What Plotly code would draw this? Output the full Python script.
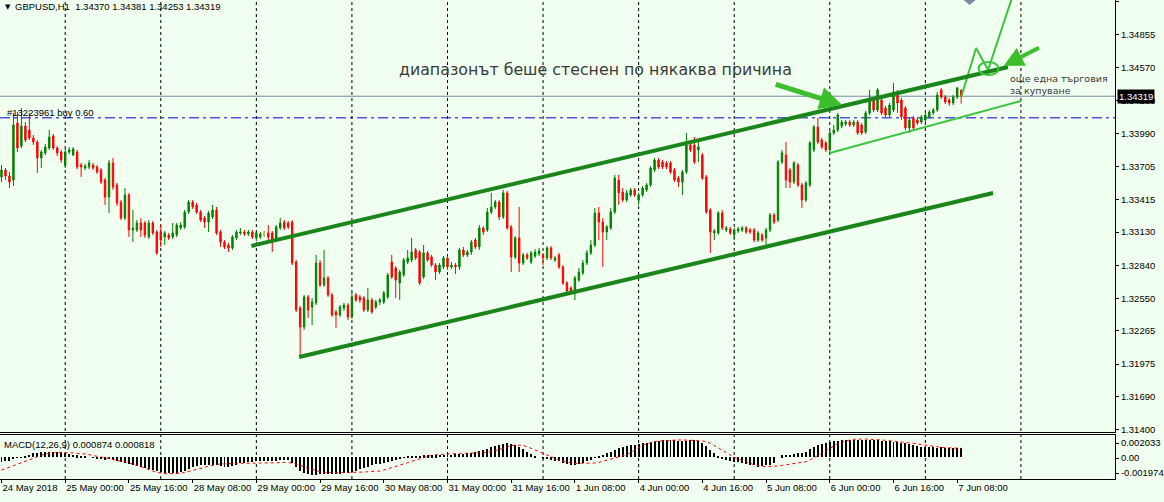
import plotly.graph_objects as go

# ---------------- data (GBPUSD H1, 24 May 08:00 .. 7 Jun 09:00) ----------------
open_ = [
 1.33613, 1.33674, 1.33621, 1.33586, 1.34085, 1.33883, 1.34058, 1.34024, 1.33954, 1.33918,
 1.33779, 1.33823, 1.33866, 1.33971, 1.33866, 1.33831, 1.33717, 1.33831, 1.33805, 1.33831,
 1.33717, 1.33691, 1.33700, 1.33717, 1.33700, 1.33674, 1.33586, 1.33438, 1.33735, 1.33542,
 1.33393, 1.33254, 1.33455, 1.33149, 1.33149, 1.33210, 1.33210, 1.33088, 1.33210, 1.33131,
 1.33131, 1.33088, 1.33105, 1.33088, 1.33105, 1.33166, 1.33175, 1.33306, 1.33393, 1.33367,
 1.33306, 1.33254, 1.33218, 1.33263, 1.33324, 1.33131, 1.33043, 1.33017, 1.32991, 1.33079,
 1.33123, 1.33131, 1.33114, 1.33131, 1.33079, 1.33088, 1.33114, 1.33123, 1.33123, 1.33061,
 1.33166, 1.33218, 1.33210, 1.33218, 1.32868, 1.32466, 1.32300, 1.32563, 1.32475, 1.32510,
 1.32860, 1.32667, 1.32729, 1.32580, 1.32431, 1.32405, 1.32466, 1.32492, 1.32388, 1.32580,
 1.32563, 1.32554, 1.32449, 1.32536, 1.32475, 1.32518, 1.32518, 1.32563, 1.32868, 1.32816,
 1.32685, 1.32755, 1.32868, 1.32886, 1.32974, 1.32956, 1.32738, 1.32948, 1.32913, 1.32842,
 1.32781, 1.32825, 1.32904, 1.32825, 1.32842, 1.32825, 1.32974, 1.32930, 1.32956, 1.33061,
 1.33000, 1.33166, 1.33149, 1.33306, 1.33350, 1.33393, 1.33263, 1.33473, 1.33175, 1.32913,
 1.33079, 1.32860, 1.32930, 1.32868, 1.32921, 1.32939, 1.32930, 1.32904, 1.32991, 1.32886,
 1.32930, 1.32825, 1.32685, 1.32641, 1.32606, 1.32711, 1.32773, 1.32860, 1.32948, 1.33017,
 1.33298, 1.33218, 1.33131, 1.33166, 1.33306, 1.33586, 1.33481, 1.33411, 1.33455, 1.33499,
 1.33411, 1.33455, 1.33499, 1.33542, 1.33674, 1.33761, 1.33743, 1.33735, 1.33735, 1.33674,
 1.33604, 1.33568, 1.33656, 1.33892, 1.33892, 1.33849, 1.33805, 1.33613, 1.33324, 1.33123,
 1.33123, 1.33298, 1.33149, 1.33157, 1.33105, 1.33140, 1.33149, 1.33166, 1.33149, 1.33149,
 1.33061, 1.33105, 1.33079, 1.33149, 1.33280, 1.33236, 1.33743, 1.33805, 1.33674, 1.33568,
 1.33717, 1.33542, 1.33411, 1.33542, 1.33849, 1.34050, 1.33936, 1.33910, 1.33849, 1.33998,
 1.34024, 1.34058, 1.34076, 1.34093, 1.34067, 1.34093, 1.34067, 1.34006, 1.34173, 1.34286,
 1.34199, 1.34286, 1.34216, 1.34155, 1.34199, 1.34356, 1.34286, 1.34216, 1.34041, 1.34129,
 1.34111, 1.34093, 1.34111, 1.34138, 1.34173, 1.34199, 1.34374, 1.34312, 1.34286, 1.34260,
 1.34312, 1.34370]

high = [
 1.33717, 1.33691, 1.33656, 1.34173, 1.34181, 1.34216, 1.34093, 1.34173, 1.33980, 1.33936,
 1.33849, 1.33901, 1.34024, 1.33989, 1.33883, 1.33849, 1.33866, 1.33875, 1.33875, 1.33849,
 1.33735, 1.33726, 1.33761, 1.33735, 1.33717, 1.33691, 1.33604, 1.33761, 1.33779, 1.33560,
 1.33411, 1.33516, 1.33473, 1.33324, 1.33236, 1.33254, 1.33227, 1.33236, 1.33227, 1.33149,
 1.33192, 1.33140, 1.33123, 1.33210, 1.33210, 1.33218, 1.33324, 1.33411, 1.33411, 1.33385,
 1.33324, 1.33271, 1.33315, 1.33367, 1.33350, 1.33149, 1.33061, 1.33035, 1.33105, 1.33149,
 1.33166, 1.33149, 1.33149, 1.33149, 1.33140, 1.33131, 1.33140, 1.33192, 1.33140, 1.33192,
 1.33254, 1.33236, 1.33227, 1.33236, 1.32886, 1.32483, 1.32580, 1.32580, 1.32554, 1.32930,
 1.32886, 1.32974, 1.32746, 1.32598, 1.32449, 1.32492, 1.32510, 1.32510, 1.32606, 1.32598,
 1.32580, 1.32571, 1.32641, 1.32554, 1.32536, 1.32554, 1.32615, 1.32773, 1.32930, 1.32833,
 1.32799, 1.32904, 1.32974, 1.33079, 1.32991, 1.32974, 1.33017, 1.32965, 1.32930, 1.32860,
 1.32860, 1.32921, 1.32921, 1.32868, 1.32860, 1.32991, 1.33000, 1.32974, 1.33061, 1.33079,
 1.33192, 1.33183, 1.33341, 1.33473, 1.33411, 1.33411, 1.33499, 1.33490, 1.33192, 1.33096,
 1.33350, 1.32948, 1.32948, 1.32965, 1.32982, 1.32991, 1.32948, 1.33008, 1.33008, 1.32921,
 1.32948, 1.32842, 1.32702, 1.32658, 1.32746, 1.32816, 1.32886, 1.32974, 1.33061, 1.33341,
 1.33350, 1.33254, 1.33192, 1.33341, 1.33630, 1.33630, 1.33516, 1.33499, 1.33516, 1.33516,
 1.33473, 1.33533, 1.33560, 1.33708, 1.33779, 1.33779, 1.33761, 1.33752, 1.33752, 1.33691,
 1.33621, 1.33674, 1.33998, 1.33910, 1.33963, 1.33918, 1.33823, 1.33630, 1.33341, 1.33157,
 1.33315, 1.33324, 1.33183, 1.33175, 1.33166, 1.33175, 1.33183, 1.33183, 1.33166, 1.33166,
 1.33140, 1.33123, 1.33166, 1.33298, 1.33298, 1.33761, 1.33849, 1.33918, 1.33691, 1.33752,
 1.33735, 1.33560, 1.33577, 1.33927, 1.34067, 1.34129, 1.33954, 1.33927, 1.34015, 1.34067,
 1.34173, 1.34111, 1.34111, 1.34111, 1.34111, 1.34111, 1.34085, 1.34190, 1.34374, 1.34304,
 1.34391, 1.34304, 1.34234, 1.34260, 1.34435, 1.34374, 1.34304, 1.34234, 1.34129, 1.34146,
 1.34129, 1.34155, 1.34173, 1.34199, 1.34216, 1.34356, 1.34391, 1.34330, 1.34304, 1.34330,
 1.34400, 1.34381]

low = [
 1.33568, 1.33586, 1.33516, 1.33533, 1.33831, 1.33866, 1.33918, 1.33936, 1.33892, 1.33648,
 1.33691, 1.33805, 1.33849, 1.33849, 1.33796, 1.33735, 1.33691, 1.33814, 1.33796, 1.33682,
 1.33613, 1.33674, 1.33682, 1.33674, 1.33639, 1.33551, 1.33367, 1.33298, 1.33499, 1.33358,
 1.33236, 1.33236, 1.33088, 1.33043, 1.33131, 1.33088, 1.33079, 1.33070, 1.33105, 1.32930,
 1.33000, 1.33017, 1.33061, 1.33070, 1.33088, 1.33149, 1.33157, 1.33289, 1.33332, 1.33289,
 1.33218, 1.33166, 1.33131, 1.33245, 1.33105, 1.33000, 1.32982, 1.32956, 1.32974, 1.33061,
 1.33105, 1.33096, 1.33096, 1.33070, 1.33052, 1.33070, 1.33088, 1.33061, 1.32956, 1.33043,
 1.33149, 1.33149, 1.33157, 1.32842, 1.32431, 1.32038, 1.32274, 1.32379, 1.32317, 1.32492,
 1.32650, 1.32650, 1.32563, 1.32388, 1.32291, 1.32388, 1.32440, 1.32361, 1.32370, 1.32518,
 1.32510, 1.32431, 1.32431, 1.32414, 1.32457, 1.32492, 1.32501, 1.32545, 1.32720, 1.32554,
 1.32536, 1.32738, 1.32851, 1.32868, 1.32886, 1.32667, 1.32720, 1.32868, 1.32825, 1.32711,
 1.32764, 1.32807, 1.32799, 1.32807, 1.32764, 1.32799, 1.32913, 1.32913, 1.32930, 1.32982,
 1.32974, 1.33105, 1.33131, 1.33289, 1.33332, 1.33236, 1.33245, 1.33149, 1.32781, 1.32895,
 1.32781, 1.32842, 1.32886, 1.32851, 1.32904, 1.32921, 1.32842, 1.32886, 1.32886, 1.32868,
 1.32807, 1.32667, 1.32598, 1.32580, 1.32536, 1.32693, 1.32755, 1.32842, 1.32930, 1.33000,
 1.33061, 1.32825, 1.33061, 1.33149, 1.33289, 1.33367, 1.33393, 1.33393, 1.33438, 1.33438,
 1.33367, 1.33438, 1.33481, 1.33525, 1.33656, 1.33682, 1.33682, 1.33682, 1.33639, 1.33568,
 1.33525, 1.33455, 1.33639, 1.33831, 1.33726, 1.33743, 1.33586, 1.33289, 1.32948, 1.33061,
 1.33105, 1.33149, 1.33131, 1.33105, 1.33061, 1.33123, 1.33131, 1.33114, 1.33114, 1.33043,
 1.33043, 1.33043, 1.33017, 1.33131, 1.33201, 1.33218, 1.33726, 1.33516, 1.33516, 1.33551,
 1.33525, 1.33341, 1.33393, 1.33525, 1.33831, 1.33901, 1.33857, 1.33831, 1.33831, 1.33980,
 1.34006, 1.34040, 1.34058, 1.34050, 1.34050, 1.33980, 1.33980, 1.33989, 1.34155, 1.34181,
 1.34181, 1.34155, 1.34138, 1.34138, 1.34181, 1.34173, 1.34111, 1.34024, 1.33998, 1.34024,
 1.34067, 1.34076, 1.34093, 1.34120, 1.34155, 1.34181, 1.34295, 1.34251, 1.34234, 1.34242,
 1.34295, 1.34253]

close = [
 1.33674, 1.33621, 1.33568, 1.34067, 1.33866, 1.34058, 1.33936, 1.33954, 1.33918, 1.33779,
 1.33831, 1.33875, 1.33963, 1.33866, 1.33823, 1.33761, 1.33831, 1.33849, 1.33857, 1.33700,
 1.33700, 1.33708, 1.33735, 1.33691, 1.33656, 1.33568, 1.33438, 1.33735, 1.33525, 1.33385,
 1.33254, 1.33455, 1.33149, 1.33166, 1.33210, 1.33149, 1.33105, 1.33210, 1.33123, 1.32948,
 1.33061, 1.33123, 1.33079, 1.33123, 1.33192, 1.33192, 1.33306, 1.33393, 1.33350, 1.33306,
 1.33236, 1.33218, 1.33298, 1.33324, 1.33123, 1.33043, 1.33000, 1.32991, 1.33088, 1.33131,
 1.33131, 1.33114, 1.33131, 1.33088, 1.33123, 1.33114, 1.33114, 1.33088, 1.33061, 1.33175,
 1.33210, 1.33166, 1.33175, 1.32860, 1.32449, 1.32300, 1.32563, 1.32449, 1.32518, 1.32860,
 1.32667, 1.32729, 1.32580, 1.32405, 1.32405, 1.32475, 1.32492, 1.32388, 1.32563, 1.32536,
 1.32536, 1.32449, 1.32536, 1.32431, 1.32518, 1.32536, 1.32598, 1.32755, 1.32738, 1.32711,
 1.32781, 1.32886, 1.32904, 1.32956, 1.32904, 1.32685, 1.32948, 1.32886, 1.32842, 1.32781,
 1.32842, 1.32904, 1.32825, 1.32842, 1.32825, 1.32974, 1.32930, 1.32956, 1.33043, 1.33000,
 1.33166, 1.33131, 1.33306, 1.33350, 1.33393, 1.33263, 1.33473, 1.33166, 1.32913, 1.33079,
 1.32860, 1.32930, 1.32904, 1.32948, 1.32956, 1.32965, 1.32904, 1.32991, 1.32904, 1.32904,
 1.32825, 1.32685, 1.32615, 1.32606, 1.32729, 1.32781, 1.32860, 1.32948, 1.33017, 1.33298,
 1.33218, 1.33131, 1.33175, 1.33306, 1.33604, 1.33473, 1.33411, 1.33473, 1.33499, 1.33455,
 1.33455, 1.33516, 1.33542, 1.33691, 1.33761, 1.33700, 1.33700, 1.33700, 1.33656, 1.33586,
 1.33568, 1.33656, 1.33892, 1.33849, 1.33743, 1.33875, 1.33604, 1.33306, 1.33131, 1.33140,
 1.33298, 1.33166, 1.33166, 1.33123, 1.33149, 1.33157, 1.33166, 1.33131, 1.33131, 1.33061,
 1.33123, 1.33061, 1.33149, 1.33280, 1.33218, 1.33743, 1.33823, 1.33586, 1.33568, 1.33735,
 1.33542, 1.33411, 1.33560, 1.33910, 1.34050, 1.33918, 1.33875, 1.33849, 1.33998, 1.34024,
 1.34155, 1.34093, 1.34093, 1.34067, 1.34093, 1.33998, 1.33998, 1.34173, 1.34286, 1.34199,
 1.34374, 1.34173, 1.34155, 1.34242, 1.34356, 1.34260, 1.34138, 1.34041, 1.34111, 1.34041,
 1.34085, 1.34138, 1.34155, 1.34181, 1.34199, 1.34330, 1.34312, 1.34269, 1.34260, 1.34312,
 1.34391, 1.34319]

macd_main = [
 -0.00043, -0.00036, -0.00030, -0.00012, -0.00006, -0.00003, 0.00012, 0.00024, 0.00036, 0.00043,
 0.00046, 0.00049, 0.00052, 0.00052, 0.00049, 0.00046, 0.00036, 0.00030, 0.00024, 0.00018,
 0.00012, 0.00009, 0.00000, -0.00006, -0.00012, -0.00018, -0.00024, -0.00018, -0.00024, -0.00033,
 -0.00043, -0.00049, -0.00058, -0.00070, -0.00079, -0.00091, -0.00100, -0.00109, -0.00116, -0.00128,
 -0.00134, -0.00140, -0.00146, -0.00146, -0.00143, -0.00137, -0.00128, -0.00109, -0.00091, -0.00079,
 -0.00073, -0.00070, -0.00067, -0.00067, -0.00073, -0.00079, -0.00085, -0.00085, -0.00079, -0.00067,
 -0.00055, -0.00049, -0.00043, -0.00040, -0.00036, -0.00036, -0.00033, -0.00036, -0.00036, -0.00030,
 -0.00024, -0.00024, -0.00024, -0.00055, -0.00091, -0.00122, -0.00140, -0.00152, -0.00158, -0.00158,
 -0.00155, -0.00152, -0.00152, -0.00155, -0.00155, -0.00152, -0.00146, -0.00140, -0.00131, -0.00122,
 -0.00109, -0.00097, -0.00085, -0.00073, -0.00064, -0.00064, -0.00055, -0.00046, -0.00036, -0.00024,
 -0.00012, -0.00006, 0.00003, 0.00009, 0.00015, 0.00015, 0.00018, 0.00018, 0.00018, 0.00018,
 0.00021, 0.00024, 0.00024, 0.00024, 0.00027, 0.00030, 0.00033, 0.00036, 0.00043, 0.00049,
 0.00058, 0.00067, 0.00079, 0.00091, 0.00103, 0.00112, 0.00122, 0.00128, 0.00122, 0.00109,
 0.00091, 0.00073, 0.00052, 0.00030, 0.00012, 0.00000, -0.00012, -0.00018, -0.00024, -0.00030,
 -0.00036, -0.00049, -0.00061, -0.00067, -0.00070, -0.00061, -0.00049, -0.00036, -0.00024, -0.00006,
 0.00012, 0.00024, 0.00036, 0.00049, 0.00067, 0.00085, 0.00097, 0.00106, 0.00112, 0.00116,
 0.00122, 0.00128, 0.00134, 0.00140, 0.00146, 0.00152, 0.00155, 0.00158, 0.00158, 0.00155,
 0.00149, 0.00146, 0.00152, 0.00158, 0.00155, 0.00149, 0.00134, 0.00103, 0.00067, 0.00036,
 0.00006, -0.00018, -0.00024, -0.00030, -0.00040, -0.00046, -0.00055, -0.00061, -0.00067, -0.00073,
 -0.00085, -0.00079, -0.00073, -0.00067, -0.00055, 0.00000, 0.00018, 0.00024, 0.00024, 0.00030,
 0.00036, 0.00036, 0.00052, 0.00073, 0.00097, 0.00112, 0.00122, 0.00128, 0.00140, 0.00146,
 0.00152, 0.00158, 0.00158, 0.00161, 0.00158, 0.00158, 0.00158, 0.00155, 0.00158, 0.00158,
 0.00158, 0.00152, 0.00149, 0.00146, 0.00143, 0.00140, 0.00134, 0.00128, 0.00119, 0.00109,
 0.00103, 0.00097, 0.00091, 0.00094, 0.00091, 0.00088, 0.00090, 0.00087, 0.00085, 0.00084,
 0.00086, 0.000874]

macd_signal = [
 -0.00116, -0.00103, -0.00091, -0.00079, -0.00067, -0.00055, -0.00040, -0.00024, -0.00009, 0.00006,
 0.00021, 0.00030, 0.00036, 0.00043, 0.00043, 0.00043, 0.00043, 0.00040, 0.00040, 0.00036,
 0.00036, 0.00030, 0.00024, 0.00018, 0.00012, 0.00006, -0.00003, -0.00012, -0.00021, -0.00030,
 -0.00036, -0.00040, -0.00049, -0.00061, -0.00073, -0.00085, -0.00100, -0.00112, -0.00125, -0.00137,
 -0.00146, -0.00149, -0.00149, -0.00149, -0.00149, -0.00146, -0.00137, -0.00128, -0.00116, -0.00106,
 -0.00097, -0.00088, -0.00079, -0.00070, -0.00064, -0.00061, -0.00058, -0.00055, -0.00055, -0.00055,
 -0.00055, -0.00055, -0.00055, -0.00055, -0.00055, -0.00055, -0.00055, -0.00052, -0.00052, -0.00049,
 -0.00049, -0.00046, -0.00046, -0.00052, -0.00061, -0.00073, -0.00085, -0.00097, -0.00109, -0.00122,
 -0.00131, -0.00137, -0.00140, -0.00140, -0.00140, -0.00140, -0.00140, -0.00140, -0.00137, -0.00137,
 -0.00134, -0.00134, -0.00131, -0.00131, -0.00128, -0.00125, -0.00116, -0.00106, -0.00094, -0.00085,
 -0.00073, -0.00061, -0.00049, -0.00036, -0.00024, -0.00012, 0.00000, 0.00012, 0.00018, 0.00024,
 0.00027, 0.00030, 0.00033, 0.00033, 0.00033, 0.00036, 0.00036, 0.00036, 0.00036, 0.00036,
 0.00040, 0.00043, 0.00046, 0.00052, 0.00061, 0.00073, 0.00085, 0.00097, 0.00106, 0.00112,
 0.00112, 0.00109, 0.00097, 0.00082, 0.00067, 0.00049, 0.00030, 0.00015, 0.00000, -0.00012,
 -0.00024, -0.00036, -0.00046, -0.00052, -0.00055, -0.00055, -0.00058, -0.00058, -0.00055, -0.00052,
 -0.00046, -0.00036, -0.00027, -0.00018, -0.00009, 0.00000, 0.00012, 0.00024, 0.00043, 0.00067,
 0.00091, 0.00109, 0.00122, 0.00134, 0.00143, 0.00149, 0.00152, 0.00155, 0.00158, 0.00158,
 0.00158, 0.00158, 0.00158, 0.00158, 0.00155, 0.00152, 0.00149, 0.00143, 0.00128, 0.00106,
 0.00082, 0.00058, 0.00036, 0.00018, 0.00000, -0.00015, -0.00030, -0.00043, -0.00055, -0.00067,
 -0.00076, -0.00082, -0.00085, -0.00085, -0.00085, -0.00079, -0.00073, -0.00067, -0.00061, -0.00058,
 -0.00055, -0.00049, -0.00040, -0.00024, -0.00006, 0.00012, 0.00036, 0.00061, 0.00082, 0.00103,
 0.00122, 0.00137, 0.00149, 0.00158, 0.00164, 0.00167, 0.00167, 0.00167, 0.00164, 0.00164,
 0.00161, 0.00158, 0.00155, 0.00152, 0.00149, 0.00146, 0.00143, 0.00140, 0.00134, 0.00128,
 0.00122, 0.00116, 0.00109, 0.00103, 0.00097, 0.00094, 0.00091, 0.00088, 0.00085, 0.00085,
 0.00082, 0.000818]

price_ticks = [1.35145, 1.34855, 1.34570, 1.34280, 1.33990, 1.33705, 1.33415,
               1.33130, 1.32840, 1.32550, 1.32265, 1.31975, 1.31690, 1.31400]
macd_tick_labels = ["0.002033", "0.00", "-0.001974"]
time_labels = ["24 May 2018", "25 May 00:00", "25 May 16:00", "28 May 08:00", "29 May 00:00",
               "29 May 16:00", "30 May 08:00", "31 May 00:00", "31 May 16:00", "1 Jun 08:00",
               "4 Jun 00:00", "4 Jun 16:00", "5 Jun 08:00", "6 Jun 00:00", "6 Jun 16:00",
               "7 Jun 08:00"]
time_label_bars = [0, 16, 32, 48, 64, 80, 96, 112, 128, 144, 160, 176, 192, 208, 224, 240]
day_start_bars = [16, 40, 64, 88, 112, 136, 160, 184, 208, 232, 256]

order_price = 1.34130
order_text = "#13223961 buy 0.60"
symbol_text = "GBPUSD,H1\u00a0\u00a01.34370 1.34381 1.34253 1.34319"
macd_text = "MACD(12,26,9) 0.000874 0.000818"
note_main = "диапазонът беше стеснен по някаква причина"
note_side = ["още една търговия", "за купуване"]

# drawn objects (bar index, price)
channel_upper = [(62.75, 1.33009), (252.75, 1.34575)]
channel_lower = [(74.75, 1.32037), (249.0, 1.33472)]
inner_lower = [(208.0, 1.33822), (256.0, 1.34277)]
zigzag_bars = [241.0, 244.75, 247.75, 253.75]
zigzag_prices = [1.34312, 1.34741, 1.34548, 1.35179]

# ---------------- geometry ----------------
FIG_W, FIG_H = 1164, 502
PLOT_W, PLOT_H = 1120, 479
MAIN_BOTTOM_PX = 432
MACD_TOP_PX = 435
BAR_PX = 4.0
BAR0_PX = 1.5
PRICE_TOP = 1.35161
PRICE_PER_PX = 0.0000875
MACD_MIN, MACD_MAX = -0.001974, 0.002033

def px2x(px):
    return (px - BAR0_PX) / BAR_PX

def py2price(py):
    return PRICE_TOP - py * PRICE_PER_PX

def py2macd(py):
    return MACD_MAX - (py - MACD_TOP_PX) * (MACD_MAX - MACD_MIN) / (PLOT_H - MACD_TOP_PX)

def paper_x(px):
    return px / PLOT_W

def paper_y(py):
    return 1 - py / PLOT_H

BG = "#F0FFF0"
FONT = "Liberation Sans"
BIGFONT = "DejaVu Sans"
SMALL = 9.5
GREEN = "#008000"
RED = "#FF0000"

n = len(close)
bars = list(range(n))

fig = go.Figure()
fig.add_trace(go.Candlestick(
    x=bars, open=open_, high=high, low=low, close=close,
    increasing=dict(line=dict(color=GREEN, width=1), fillcolor=GREEN),
    decreasing=dict(line=dict(color=RED, width=1), fillcolor=RED),
    whiskerwidth=0, hoverinfo="skip", xaxis="x", yaxis="y", showlegend=False))

doji = [i for i in bars if open_[i] == close[i]]
if doji:
    fig.add_trace(go.Candlestick(
        x=doji, open=[open_[i] for i in doji], high=[high[i] for i in doji],
        low=[low[i] for i in doji], close=[close[i] for i in doji],
        increasing=dict(line=dict(color="#D9B46A", width=1), fillcolor="#D9B46A"),
        decreasing=dict(line=dict(color="#D9B46A", width=1), fillcolor="#D9B46A"),
        whiskerwidth=0, hoverinfo="skip", xaxis="x", yaxis="y", showlegend=False))

# projected zig-zag path
fig.add_trace(go.Scatter(x=zigzag_bars, y=zigzag_prices, mode="lines",
                         line=dict(color="#3CC43C", width=2), hoverinfo="skip",
                         xaxis="x", yaxis="y", showlegend=False))

fig.add_trace(go.Bar(x=bars, y=macd_main, width=0.25, marker=dict(color="black", line=dict(width=0)),
                     hoverinfo="skip", xaxis="x2", yaxis="y2", showlegend=False))
fig.add_trace(go.Scatter(x=bars, y=macd_signal, mode="lines",
                         line=dict(color="#FF0000", width=1, dash="3px,3px"),
                         hoverinfo="skip", xaxis="x2", yaxis="y2", showlegend=False))

shapes = []
for b in day_start_bars:
    shapes.append(dict(type="line", xref="x", yref="paper", x0=b, x1=b, y0=0, y1=1,
                       line=dict(color="black", width=1, dash="3px,3px"), layer="below"))
# bid line and order line
shapes.append(dict(type="line", xref="paper", yref="y", x0=0, x1=1, y0=close[-1], y1=close[-1],
                   line=dict(color="#7788A0", width=1), layer="below"))
shapes.append(dict(type="line", xref="paper", yref="y", x0=0, x1=1, y0=order_price, y1=order_price,
                   line=dict(color="#0000CD", width=1, dash="10px,4px,3px,4px"), layer="below"))
# channel lines
for (p0, p1), col, w in [(channel_upper, "#1A861A", 4), (channel_lower, "#1A861A", 4),
                          (inner_lower, "#3CC43C", 2)]:
    shapes.append(dict(type="line", xref="x", yref="y", x0=p0[0], y0=p0[1], x1=p1[0], y1=p1[1],
                       line=dict(color=col, width=w)))
# ellipse on the projected retest
shapes.append(dict(type="circle", xref="x", yref="y",
                   x0=px2x(983), x1=px2x(1003), y0=py2price(75), y1=py2price(62),
                   line=dict(color="#3CC43C", width=2)))
# chart-shift marker
shapes.append(dict(type="path", xref="paper", yref="paper",
                   path=f"M {paper_x(968)} {paper_y(0)} L {paper_x(980)} {paper_y(0)} L {paper_x(974)} {paper_y(5)} Z",
                   fillcolor="#7A8A9A", line=dict(width=0)))

annotations = []
def text_ann(txt, px, py, size=SMALL, color="black", xanchor="left", family=FONT):
    annotations.append(dict(text=txt, xref="paper", yref="paper", x=paper_x(px), y=paper_y(py),
                            xanchor=xanchor, yanchor="middle", showarrow=False, borderpad=0,
                            font=dict(family=family, size=size, color=color)))

text_ann("\u25BC", 4, 7, size=7, family=BIGFONT)
text_ann(symbol_text, 14, 7)
text_ann(order_text, 6, 112)
text_ann(macd_text, 3, 444)
text_ann(note_main, 598, 70, size=15.8, color="#3A3A3A", xanchor="center", family=BIGFONT)
text_ann(note_side[0], 1014, 78, size=9.5, color="#3A3A3A", family=BIGFONT)
text_ann(note_side[1], 1014, 90, size=9.5, color="#3A3A3A", family=BIGFONT)

# current price label
annotations.append(dict(text=f"{close[-1]:.5f}", xref="paper", yref="y", x=1, y=close[-1],
                        xanchor="left", yanchor="middle", xshift=2, showarrow=False,
                        bgcolor="black", borderpad=1,
                        font=dict(family=FONT, size=SMALL, color="white")))
# arrows
annotations.append(dict(text="", xref="x", yref="y", x=px2x(846), y=py2price(105),
                        ax=-68, ay=-21, showarrow=True, arrowhead=2, arrowsize=0.9,
                        arrowwidth=5, arrowcolor="#3DBE2C", standoff=0))
annotations.append(dict(text="", xref="x", yref="y", x=px2x(1008), y=py2price(66),
                        ax=37, ay=-19, showarrow=True, arrowhead=2, arrowsize=1.0,
                        arrowwidth=4, arrowcolor="#3DBE2C", standoff=0))

main_dom = [(PLOT_H - MAIN_BOTTOM_PX) / PLOT_H, 1]
macd_dom = [0, (PLOT_H - MACD_TOP_PX) / PLOT_H]
tickfont = dict(family=FONT, size=SMALL, color="black")

fig.update_layout(
    width=FIG_W, height=FIG_H,
    margin=dict(l=0, r=FIG_W - PLOT_W, t=0, b=FIG_H - PLOT_H, pad=0),
    paper_bgcolor=BG, plot_bgcolor=BG,
    showlegend=False, boxgap=0.5, bargap=0,
    shapes=shapes, annotations=annotations,
    xaxis=dict(domain=[0, 1], anchor="y", range=[px2x(0), px2x(PLOT_W)],
               showticklabels=False, ticks="", showgrid=False, zeroline=False,
               showline=True, linecolor="black", linewidth=1,
               rangeslider=dict(visible=False), fixedrange=True),
    yaxis=dict(domain=main_dom, anchor="x", side="right",
               range=[py2price(MAIN_BOTTOM_PX), PRICE_TOP],
               tickmode="array", tickvals=price_ticks,
               ticktext=[f"{v:.5f}" for v in price_ticks],
               ticks="outside", ticklen=3, tickcolor="black", tickfont=tickfont,
               showgrid=False, zeroline=False, showline=True, linecolor="black", linewidth=1),
    xaxis2=dict(domain=[0, 1], anchor="y2", matches="x",
                tickmode="array", tickvals=time_label_bars, ticktext=time_labels,
                ticks="outside", ticklen=3, tickcolor="black", tickfont=tickfont,
                ticklabelposition="outside right", tickangle=0,
                showgrid=False, zeroline=False, showline=True, mirror=True,
                linecolor="black", linewidth=1),
    yaxis2=dict(domain=macd_dom, anchor="x2", side="right", range=[MACD_MIN, MACD_MAX],
                tickmode="array", tickvals=[py2macd(443), py2macd(458), py2macd(473)],
                ticktext=macd_tick_labels, ticks="outside", ticklen=3, tickcolor="black",
                tickfont=tickfont, showgrid=False, zeroline=False,
                showline=True, linecolor="black", linewidth=1),
)

fig.write_html("out.html", config={"displayModeBar": False},
               post_script="document.body.style.margin='0px';document.body.style.overflow='hidden';")
